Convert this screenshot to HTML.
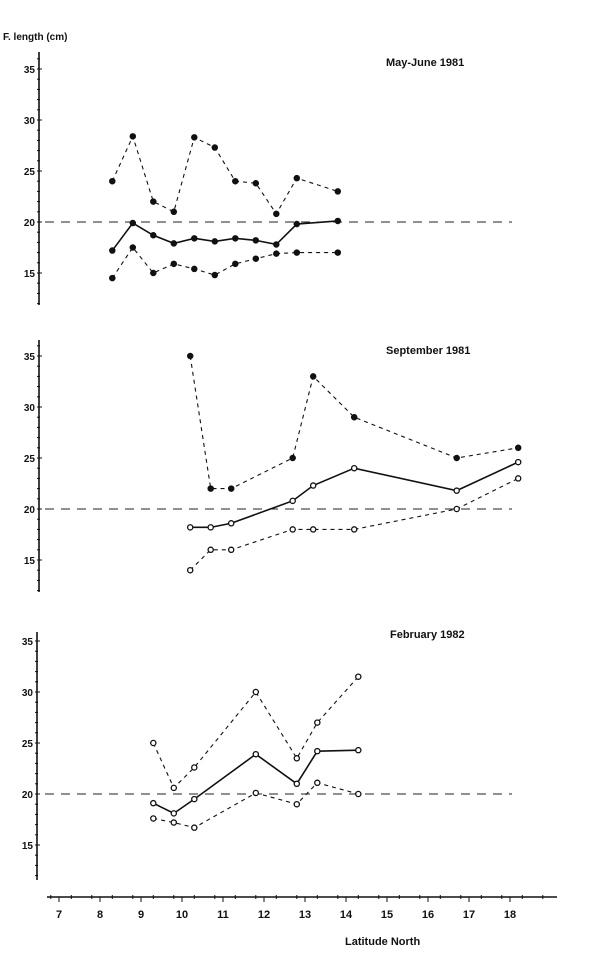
<!DOCTYPE html>
<html><head><meta charset="utf-8"><style>
html,body{margin:0;padding:0;background:#fff;}
svg text{font-family:"Liberation Sans",sans-serif;fill:#111;font-weight:bold;}
</style></head><body>
<svg id="s" width="600" height="964" xmlns="http://www.w3.org/2000/svg">
<text x="3" y="40" font-size="10">F. length (cm)</text>
<text x="386" y="66" font-size="11">May-June 1981</text>
<text x="386" y="354" font-size="11">September 1981</text>
<text x="390" y="638" font-size="11">February 1982</text>
<text x="345" y="945" font-size="11">Latitude  North</text>
</svg>
<script>
var s=document.getElementById('s'),NS='http://www.w3.org/2000/svg';
function el(t,a){var e=document.createElementNS(NS,t);for(var k in a)e.setAttribute(k,a[k]);s.appendChild(e);return e;}
function X(l){return 59+(l-7)*41;}
var panels=[
 {y20:222,ax:39,top:52,bot:305,
  xs:[8.3,8.8,9.3,9.8,10.3,10.8,11.3,11.8,12.3,12.8,13.8],
  up:[24,28.4,22,21,28.3,27.3,24,23.8,20.8,24.3,23],
  me:[17.2,19.9,18.7,17.9,18.4,18.1,18.4,18.2,17.8,19.8,20.1],
  lo:[14.5,17.5,15,15.9,15.4,14.8,15.9,16.4,16.9,17,17],fill:[1,1,1]},
 {y20:509,ax:39,top:340,bot:592,
  xs:[10.2,10.7,11.2,12.7,13.2,14.2,16.7,18.2],
  up:[35,22,22,25,33,29,25,26],
  me:[18.2,18.2,18.6,20.8,22.3,24,21.8,24.6],
  lo:[14,16,16,18,18,18,20,23],fill:[1,0,0]},
 {y20:794,ax:37,top:632,bot:880,
  xs:[9.3,9.8,10.3,11.8,12.8,13.3,14.3],
  up:[25,20.6,22.6,30,23.5,27,31.5],
  me:[19.1,18.1,19.5,23.9,21,24.2,24.3],
  lo:[17.6,17.2,16.7,20.1,19,21.1,20],fill:[0,0,0]}
];
panels.forEach(function(p){
 function Y(v){return p.y20+(20-v)*10.2;}
 el('line',{x1:p.ax,y1:p.top,x2:p.ax,y2:p.bot,stroke:'#111','stroke-width':1.6});
 for(var v=12;v<=36;v++){var y=Y(v);if(y<p.top||y>p.bot)continue;
  el('line',{x1:p.ax-2,y1:y,x2:p.ax+(v%5==0?3:1),y2:y,stroke:'#111','stroke-width':1});}
 [15,20,25,30,35].forEach(function(v){var t=el('text',{x:p.ax-4,y:Y(v)+4,'font-size':10,'text-anchor':'end'});t.textContent=v;});
 el('line',{x1:45,y1:p.y20,x2:512,y2:p.y20,stroke:'#222','stroke-width':1.1,'stroke-dasharray':'9,7'});
 [['up','4,4',0],['me','',1],['lo','4,4',2]].forEach(function(d){
  var pts=p.xs.map(function(x,i){return X(x)+','+Y(p[d[0]][i]);}).join(' ');
  var a={points:pts,fill:'none',stroke:'#111','stroke-width':d[1]?1.1:1.6};if(d[1])a['stroke-dasharray']=d[1];
  el('polyline',a);
  p.xs.forEach(function(x,i){el('circle',{cx:X(x),cy:Y(p[d[0]][i]),r:2.6,fill:p.fill[d[2]]?'#111':'#fff',stroke:'#111','stroke-width':1.3});});
 });
});
el('line',{x1:47,y1:897,x2:557,y2:897,stroke:'#111','stroke-width':1.6});
for(var l=6.8;l<=19.2;l+=0.5){el('line',{x1:X(l),y1:895,x2:X(l),y2:899,stroke:'#111','stroke-width':1});}
for(var l=7;l<=18;l++){el('line',{x1:X(l),y1:897,x2:X(l),y2:902,stroke:'#111','stroke-width':1});
 var t=el('text',{x:X(l),y:918,'font-size':11,'text-anchor':'middle'});t.textContent=l;}
</script>
</body></html>
